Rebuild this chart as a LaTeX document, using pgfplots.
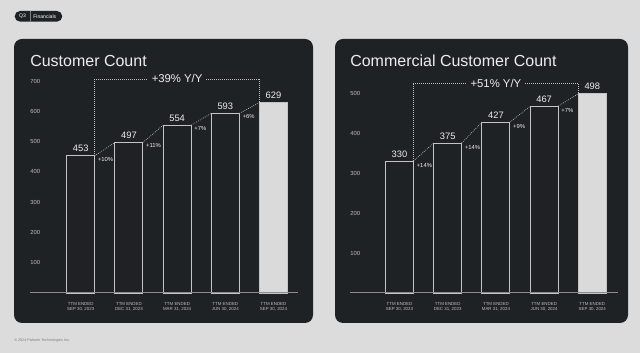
\documentclass[border=0pt]{standalone}
\usepackage{fontspec}
\setmainfont{Liberation Sans}
\usepackage{pgfplots}
\pgfplotsset{compat=1.18}
\definecolor{bg}{HTML}{DCDCDC}
\definecolor{panel}{HTML}{1F2225}
\definecolor{barline}{HTML}{C4C4C4}
\definecolor{txt}{HTML}{EDEDED}
\definecolor{tick}{HTML}{BEBEBE}
\definecolor{dots}{HTML}{BDBDBD}
\definecolor{baseln}{HTML}{8C8C8C}
\definecolor{lastbar}{HTML}{DADADA}
\pgfplotsset{
  palstyle/.style={
    scale only axis, width=201pt, ymin=0, clip=false,
    anchor=south west,
    axis line style={draw=none}, major tick length=0pt,
    /pgf/number format/assume math mode=true,
    xtick={0,...,4},
    xticklabels={{TTM ENDED\\SEP 30, 2023},{TTM ENDED\\DEC 31, 2023},{TTM ENDED\\MAR 31, 2024},{TTM ENDED\\JUN 30, 2024},{TTM ENDED\\SEP 30, 2024}},
    xticklabel style={font=\fontsize{3.3}{4}\selectfont, text=tick, align=center, inner sep=0pt, anchor=north, yshift=-7pt},
    yticklabel style={font=\fontsize{4.4}{5}\selectfont, text=tick, anchor=west, inner sep=0pt},
  },
  bars/.style={ybar, bar width=21pt, bar shift=0pt, draw=barline, line width=0.7pt,
    nodes near coords,
    every node near coord/.append style={font=\fontsize{7}{8}\selectfont, text=txt, inner sep=2.5pt, anchor=south}},
  conn/.style={dots, line width=0.5pt, dash pattern=on 0.6pt off 0.9pt, no marks},
}
\tikzset{
  pct/.style={font=\fontsize{4.4}{5}\selectfont, text=txt, inner sep=0pt, anchor=north west, xshift=2.3pt},
  yy/.style={font=\fontsize{8.5}{10}\selectfont, text=txt, fill=panel, inner ysep=1pt, inner xsep=3pt},
}
\begin{document}
\begin{tikzpicture}
\useasboundingbox (0,0) rectangle (480pt,264.75pt);
\fill[bg] (0,0) rectangle (480pt,264.75pt);
% badge
\fill[panel, rounded corners=4pt] (11pt,248.5pt) rectangle (46.7pt,256.5pt);
\draw[gray, line width=0.4pt] (22.5pt,248.5pt) -- (22.5pt,256.5pt);
\node[text=white, font=\fontsize{3.8}{4}\selectfont, inner sep=0pt] at (16.9pt,252.5pt) {Q3};
\node[text=white, font=\fontsize{3.8}{4}\selectfont, inner sep=0pt] at (33.6pt,252.5pt) {Financials};
% panels
\fill[panel, rounded corners=6pt] (10.5pt,22.5pt) rectangle (234.75pt,235.5pt);
\fill[panel, rounded corners=6pt] (251.25pt,22.5pt) rectangle (471pt,235.5pt);
% titles
\node[anchor=base west, inner sep=0pt, text=txt, font=\fontsize{12}{14}\selectfont] at (22.5pt,214.9pt) {Customer Count};
\node[anchor=base west, inner sep=0pt, text=txt, font=\fontsize{12}{14}\selectfont] at (262.5pt,214.9pt) {Commercial Customer Count};
% footer
\node[anchor=base west, inner sep=0pt, text=gray, font=\fontsize{2.8}{3}\selectfont] at (10.5pt,8.5pt) {\textcopyright{} 2024 Palantir Technologies Inc.};

% Left chart
\begin{axis}[palstyle, at={(22.5pt,45pt)}, height=159pt, ymax=700,
  xmin=-1.052, xmax=4.508, ytick={100,200,...,700}]
\addplot[bars, fill=panel] coordinates {(0,453) (1,497) (2,554) (3,593)};
\addplot[bars, fill=lastbar] coordinates {(4,629)};
\addplot[conn] coordinates {(0.29,453) (0.71,497)};
\addplot[conn] coordinates {(1.29,497) (1.71,554)};
\addplot[conn] coordinates {(2.29,554) (2.71,593)};
\addplot[conn] coordinates {(3.29,593) (3.71,629)};
\addplot[conn] coordinates {(0.29,453) (0.29,707) (3.71,707) (3.71,629)};
\node[yy] at (axis cs:2,707) {+39\% Y/Y};
\node[pct, yshift=-0.8pt] at (axis cs:0.29,453) {+10\%};
\node[pct, yshift=-0.8pt] at (axis cs:1.29,497) {+11\%};
\node[pct, yshift=-0.8pt] at (axis cs:2.29,554) {+7\%};
\node[pct, yshift=-0.8pt] at (axis cs:3.29,593) {+6\%};
\draw[baseln, line width=0.75pt] (rel axis cs:0,0) -- (rel axis cs:1,0);
\end{axis}

% Right chart
\begin{axis}[palstyle, at={(262.5pt,45pt)}, height=150pt, ymax=500,
  xmin=-1.027, xmax=4.533, ytick={100,200,...,500}]
\addplot[bars, fill=panel] coordinates {(0,330) (1,375) (2,427) (3,467)};
\addplot[bars, fill=lastbar] coordinates {(4,498)};
\addplot[conn] coordinates {(0.29,330) (0.71,375)};
\addplot[conn] coordinates {(1.29,375) (1.71,427)};
\addplot[conn] coordinates {(2.29,427) (2.71,467)};
\addplot[conn] coordinates {(3.29,467) (3.71,498)};
\addplot[conn] coordinates {(0.29,330) (0.29,525) (3.71,525) (3.71,498)};
\node[yy] at (axis cs:2,525) {+51\% Y/Y};
\node[pct, yshift=-1.3pt] at (axis cs:0.29,330) {+14\%};
\node[pct, yshift=-1.3pt] at (axis cs:1.29,375) {+14\%};
\node[pct, yshift=-1.3pt] at (axis cs:2.29,427) {+9\%};
\node[pct, yshift=-1.3pt] at (axis cs:3.29,467) {+7\%};
\draw[baseln, line width=0.75pt] (rel axis cs:0,0) -- (rel axis cs:1,0);
\end{axis}
\end{tikzpicture}
\end{document}
